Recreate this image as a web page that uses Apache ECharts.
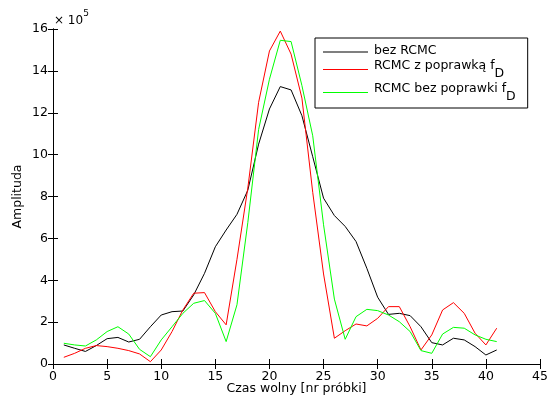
<!DOCTYPE html>
<html>
<head>
<meta charset="utf-8">
<script src="https://cdn.jsdelivr.net/npm/echarts@6/dist/echarts.min.js"></script>
<style>
  html, body { margin: 0; padding: 0; background: #fff; }
  #chart { width: 547px; height: 398px; }
</style>
</head>
<body>
<div id="chart"></div>
<script>
// Sample index (slow time) and amplitudes, in units of 1e5
const samples = [1,2,3,4,5,6,7,8,9,10,11,12,13,14,15,16,17,18,19,20,21,22,23,24,25,26,27,28,29,30,31,32,33,34,35,36,37,38,39,40,41];

const bezRcmc = [0.91,0.75,0.60,0.88,1.21,1.27,1.05,1.18,1.78,2.34,
                 2.50,2.53,3.30,4.33,5.60,6.40,7.15,8.30,10.50,12.18,
                 13.25,13.09,11.86,9.90,7.92,7.09,6.57,5.85,4.57,3.19,
                 2.37,2.42,2.31,1.78,1.02,0.91,1.23,1.15,0.83,0.43,0.67];

const rcmcZPoprawka = [0.32,0.51,0.75,0.88,0.83,0.75,0.64,0.48,0.11,0.67,
                       1.55,2.58,3.38,3.41,2.50,1.87,5.00,8.40,12.50,14.95,
                       15.90,14.80,12.70,8.20,4.30,1.23,1.59,1.91,1.82,2.18,
                       2.74,2.74,1.78,0.67,1.39,2.58,2.93,2.42,1.47,0.91,1.71];

const rcmcBezPoprawki = [0.99,0.91,0.86,1.15,1.55,1.78,1.43,0.70,0.35,1.15,
                         1.78,2.42,2.90,3.03,2.42,1.07,2.83,6.75,11.20,13.60,
                         15.46,15.40,13.30,10.90,6.65,3.10,1.18,2.26,2.61,2.55,
                         2.34,2.02,1.55,0.64,0.51,1.43,1.75,1.71,1.39,1.18,1.07];

const seriesNames = ['bez RCMC', 'RCMC z poprawką f_D', 'RCMC bez poprawki f_D'];
const seriesColors = ['#000000', '#ff0000', '#00ff00'];
const xTicks = { min: 0, max: 45, interval: 5 };
const yTicks = { min: 0, max: 16, interval: 2 };

const FONT = 'DejaVu Sans, Verdana, sans-serif';
const FS = 12.5;

function pairs(values) {
  return samples.map((s, i) => [s, values[i]]);
}

const chart = echarts.init(document.getElementById('chart'), null, { renderer: 'canvas' });

const axisLine = { show: true, lineStyle: { color: '#000', width: 1 } };
const tickIn = { show: true, inside: true, length: 5, lineStyle: { color: '#000', width: 1 } };

// "f_D" in a name is drawn as f with a lowered D
function legendLabel(name) {
  const i = name.indexOf('f_D');
  if (i < 0) return '{m|' + name + '}';
  return '{m|' + name.slice(0, i) + 'f}{s|D}';
}

chart.setOption({
  animation: false,
  backgroundColor: '#fff',
  textStyle: { fontFamily: FONT },
  grid: { left: 53, right: 7, top: 29, bottom: 34, show: false, containLabel: false, outerBoundsMode: 'none' },
  xAxis: [
    {
      type: 'value', position: 'bottom',
      min: xTicks.min, max: xTicks.max, interval: xTicks.interval,
      axisLine, axisTick: tickIn,
      axisLabel: { color: '#000', fontSize: FS, margin: 6, fontFamily: FONT },
      splitLine: { show: false },
      name: 'Czas wolny [nr próbki]', nameLocation: 'middle', nameGap: 18, nameMoveOverlap: false,
      nameTextStyle: { color: '#000', fontSize: FS, fontFamily: FONT }
    },
    {
      type: 'value', position: 'top',
      min: xTicks.min, max: xTicks.max, interval: xTicks.interval,
      axisLine, axisTick: tickIn,
      axisLabel: { show: false }, splitLine: { show: false }
    }
  ],
  yAxis: [
    {
      type: 'value', position: 'left',
      min: yTicks.min, max: yTicks.max, interval: yTicks.interval,
      axisLine, axisTick: tickIn,
      axisLabel: { color: '#000', fontSize: FS, margin: 5, fontFamily: FONT },
      splitLine: { show: false },
      name: 'Amplituda', nameLocation: 'middle', nameGap: 29, nameRotate: 90, nameMoveOverlap: false,
      nameTextStyle: { color: '#000', fontSize: FS, fontFamily: FONT }
    },
    {
      type: 'value', position: 'right',
      min: yTicks.min, max: yTicks.max, interval: yTicks.interval,
      axisLine, axisTick: tickIn,
      axisLabel: { show: false }, splitLine: { show: false }
    }
  ],
  legend: {
    orient: 'vertical',
    left: 315, top: 38,
    padding: [6, 12, 5, 8],
    itemGap: 2,
    itemWidth: 45, itemHeight: 1,
    borderColor: '#000', borderWidth: 1, borderRadius: 0,
    backgroundColor: '#fff',
    data: seriesNames.map((n, i) => ({
      name: n, icon: 'rect',
      itemStyle: { color: seriesColors[i], borderWidth: 0 }
    })),
    formatter: legendLabel,
    textStyle: {
      fontFamily: FONT, color: '#000', padding: [0, 0, 0, 1],
      rich: {
        m: { fontSize: FS, fontFamily: FONT, color: '#000', verticalAlign: 'top', lineHeight: 16 },
        s: { fontSize: FS, fontFamily: FONT, color: '#000', verticalAlign: 'bottom', lineHeight: 21 }
      }
    }
  },
  graphic: [
    {
      type: 'text', left: 54, top: 9,
      style: {
        text: '{a|× 10}{b|5}',
        fill: '#000',
        rich: {
          a: { fontSize: 12, fontFamily: FONT, verticalAlign: 'bottom', lineHeight: 18 },
          b: { fontSize: 9, fontFamily: FONT, verticalAlign: 'top', lineHeight: 18 }
        }
      }
    }
  ],
  series: [bezRcmc, rcmcZPoprawka, rcmcBezPoprawki].map((vals, i) => ({
    name: seriesNames[i],
    type: 'line',
    data: pairs(vals),
    symbol: 'none',
    smooth: false,
    lineStyle: { color: seriesColors[i], width: 1 },
    itemStyle: { color: seriesColors[i] },
    z: 2 + i
  }))
});
</script>
</body>
</html>
